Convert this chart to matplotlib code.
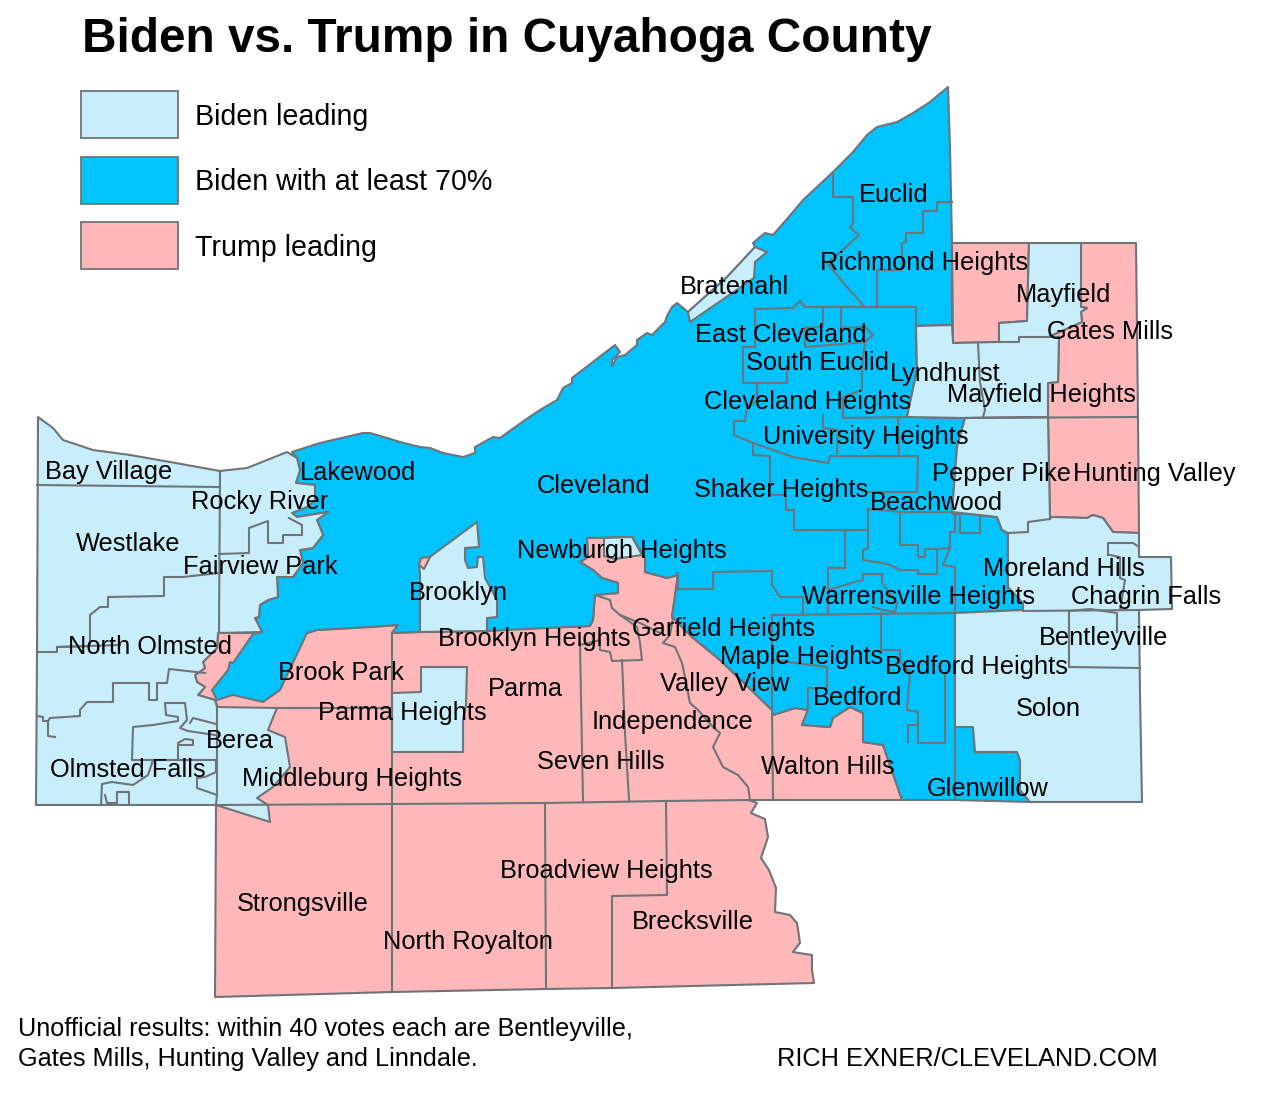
import matplotlib
matplotlib.use("Agg")
import matplotlib.pyplot as plt
from matplotlib.patches import Polygon, Rectangle

plt.rcParams['font.family'] = ['Liberation Sans', 'DejaVu Sans']

LIGHT = '#c8eefb'
BLUE = '#00c3ff'
PINK = '#ffb8ba'
EDGE = '#6e7478'

# map outlines
pink_south = [(218,633),(307,633),(317,630),(370,627),(398,625),(392,633),(420,632),(590,626),(593,620),(595,595),
    (618,593),(618,583),(602,578),(593,570),(580,562),(588,557),(587,538),(632,537),(645,557),(645,572),(667,578),
    (678,575),(672,617),(692,637),(720,660),(772,710),(773,715),(795,708),(808,710),(802,725),(830,727),(833,718),
    (850,707),(863,713),(863,742),(883,745),(902,800),(749,800),(757,803),(751,813),(765,819),(768,837),(761,858),
    (769,870),(776,888),(775,912),(790,915),(797,923),(800,943),(793,952),(812,955),(812,970),(814,983),(612,988),
    (546,989),(392,992),(215,997),(216,805),(217,705),(215,700),(198,695),(205,687),(197,682),(195,675),(205,668),
    (203,662),(217,648)]
blue_main = [(217,700),(212,690),(220,680),(228,670),(230,662),(233,663),(253,634),(262,632),(255,618),(259,617),
    (260,605),(268,600),(278,597),(277,577),(293,577),(303,563),(300,550),(313,548),(323,535),(317,520),(328,512),
    (297,517),(292,513),(307,507),(315,500),(315,485),(296,483),(300,470),(297,458),(292,452),(320,443),(363,433),
    (370,433),(387,438),(400,442),(420,447),(430,448),(443,453),(463,457),(475,453),(475,447),(493,437),(500,438),
    (525,420),(540,410),(557,400),(563,388),(572,383),(572,378),(615,345),(620,352),(612,360),(612,366),(617,357),
    (625,355),(637,345),(637,340),(647,333),(652,335),(665,322),(667,316),(672,307),(677,303),(688,312),(727,277),
    (755,247),(753,243),(760,237),(765,233),(773,235),(793,212),(803,200),(817,187),(833,172),(853,152),(867,135),
    (877,127),(897,122),(913,113),(930,102),(948,87),(950,147),(952,243),(952,325),(916,326),(917,370),
    (907,417),(965,418),(957,447),(952,512),(997,517),(1002,530),(1008,533),(1008,587),(1023,603),(1023,610),
    (955,613),(955,727),(973,727),(975,752),(1017,752),(1020,760),(1020,790),(1030,802),(955,800),(902,800),
    (883,745),(863,742),(863,713),(850,707),(833,718),(830,727),(802,725),(808,710),(795,708),(773,715),(772,710),
    (720,660),(692,637),(672,617),(678,575),(667,578),(645,572),(645,557),(632,537),(587,538),(588,557),(580,562),
    (593,570),(602,578),(618,583),(618,593),(595,595),(593,620),(590,626),(487,631),(420,632),(392,633),(398,625),
    (370,627),(317,630),(307,633),(280,690),(273,695),(263,702),(233,695)]
light_west = [(38,417),(53,428),(63,440),(93,450),(130,455),(170,462),(220,471),(247,468),(267,460),(287,452),
    (297,458),(300,470),(296,483),(315,485),(315,500),(307,507),(292,513),(297,517),(328,512),(317,520),(323,535),
    (313,548),(300,550),(303,563),(293,577),(277,577),(278,597),(268,600),(260,605),(259,617),(255,618),(262,632),
    (218,633),(217,648),(203,662),(205,668),(195,675),(197,682),(205,687),(198,695),(215,700),(217,707),(277,708),
    (268,730),(285,737),(290,767),(273,787),(257,798),(268,805),(270,822),(216,805),(36,805),(37,652)]
light_brooklyn = [(420,632),(420,573),(419,565),(477,522),(479,547),(465,548),(465,560),(468,568),(477,567),(478,557),
    (483,557),(485,578),(497,600),(497,617),(487,618),(487,631)]
pink_sliver = [(419,565),(421,558),(430,557),(424,569)]
light_parma_heights = [(392,693),(421,692),(421,667),(467,667),(466,705),(463,720),(463,752),(392,752)]
light_newburgh = [(604,538),(632,537),(642,555),(615,559),(604,556)]
light_bratenahl = [(688,312),(727,277),(755,247),(767,252),(755,262),(754,278),(690,322)]
pink_highland = [(952,243),(1029,243),(1027,321),(999,323),(999,342),(953,343)]
pink_east = [(1081,243),(1136,243),(1138,417),(1139,533),(1113,532),(1103,518),(1093,515),(1087,518),(1053,517),
    (1050,518),(1048,417),(1048,383),(1058,382),(1059,337),(1048,337),(1082,322),(1081,312),(1087,308),(1081,307)]
light_ne = [(1029,243),(1081,243),(1081,307),(1087,308),(1081,312),(1082,322),(1048,337),(1059,337),(1058,382),
    (1048,383),(1048,417),(965,418),(907,417),(917,370),(916,326),(952,325),(953,343),(999,342),(999,323),(1027,321)]
light_se = [(965,418),(1048,417),(1050,518),(1053,517),(1087,518),(1093,515),(1103,518),(1113,532),(1139,533),
    (1139,557),(1171,557),(1172,609),(1139,610),(1140,693),(1142,802),(1030,802),(1020,790),(1020,760),(1017,752),
    (975,752),(973,727),(955,727),(955,613),(1023,610),(1023,603),(1008,587),(1008,533),(1002,530),(997,517),
    (952,512),(957,447)]

areas = [(pink_south, PINK), (blue_main, BLUE), (light_west, LIGHT), (light_brooklyn, LIGHT), (pink_sliver, PINK),
    (light_parma_heights, LIGHT), (light_newburgh, LIGHT), (light_bratenahl, LIGHT), (pink_highland, PINK),
    (pink_east, PINK), (light_ne, LIGHT), (light_se, LIGHT)]

# municipal borders inside the coloured areas
borders = [
    [(833,173),(833,197),(853,197),(853,223),(850,227),(859,235),(843,250),(827,263),(847,287),(865,307)],
    [(952,202),(937,202),(937,211),(923,211),(923,233),(906,233),(906,242),(902,243),(902,270),(877,270),(877,307)],
    [(755,309),(793,308),(800,301),(805,307),(916,307),(916,326)],
    [(755,309),(755,347),(743,347),(743,383),(787,383),(787,369)],
    [(757,383),(757,400),(747,408),(745,421),(734,421),(734,435),(753,443),(793,457),(828,463),(830,456),(918,456)],
    [(823,308),(823,327),(805,328),(805,347),(865,342)],
    [(841,308),(841,328),(865,327),(873,335),(865,342),(862,367),(862,390),(843,397),(843,418),(907,417)],
    [(823,415),(823,428),(838,430),(837,453)],
    [(898,418),(899,455)],
    [(753,443),(753,455),(770,456),(770,495),(786,495),(786,510),(794,510),(794,530),(868,530)],
    [(918,456),(917,492),(867,492)],
    [(868,509),(900,512),(900,545),(918,545),(918,557),(925,557),(925,549),(937,549),(937,574),(918,574),(918,570),
     (900,570),(890,565),(882,563),(863,560),(863,550),(868,548),(868,509)],
    [(845,530),(845,568),(828,568),(828,613)],
    [(900,512),(950,512),(955,515),(955,532),(950,532),(950,548),(943,565),(955,567),(955,613)],
    [(937,549),(950,548)],
    [(955,515),(960,513),(960,533),(980,533),(980,515)],
    [(828,590),(855,582),(863,580),(863,574),(882,574),(882,583),(897,603),(895,613)],
    [(873,607),(883,610),(895,612)],
    [(677,573),(678,589),(713,589),(713,572),(772,571),(772,585),(780,597),(803,597),(803,613)],
    [(772,615),(955,613)],
    [(772,615),(772,710)],
    [(881,613),(881,650),(900,650),(900,662),(910,672),(907,710),(918,712),(918,743),(945,743),(945,673)],
    [(918,725),(908,725),(908,742)],
    [(772,660),(827,667),(827,688),(808,688),(808,710)],
    [(955,727),(955,800)],
    [(37,485),(220,487)],
    [(220,471),(219,633)],
    [(219,554),(249,553),(249,528),(268,521),(268,543),(283,543),(283,535),(302,535),(302,525),(289,518)],
    [(219,573),(183,577),(164,577),(164,596),(108,597),(108,607),(100,607),(90,615),(90,646),(57,647),(57,652),(37,652)],
    [(57,647),(120,645)],
    [(37,716),(43,717),(43,721),(48,721),(50,718),(80,716),(80,710),(87,702),(113,702),(113,683),(149,683),(149,700),
     (157,700),(157,683),(167,683),(169,669),(205,673)],
    [(48,721),(48,736),(55,737)],
    [(165,703),(185,703),(187,720),(180,728),(188,731),(215,735)],
    [(165,703),(166,715),(178,717),(178,721),(153,725),(133,727),(132,760),(216,760),(216,772),(205,777),(197,778),
     (197,788),(217,795),(216,805)],
    [(190,723),(193,718),(216,724)],
    [(178,760),(178,745),(193,745),(193,740),(185,739),(178,743)],
    [(153,760),(148,775),(133,785),(112,782),(102,784),(101,805)],
    [(105,795),(107,803),(117,803),(117,792),(129,792),(129,805)],
    [(217,707),(217,795)],
    [(277,708),(392,708)],
    [(392,633),(392,805)],
    [(580,643),(583,802)],
    [(622,660),(625,733),(629,800)],
    [(595,595),(610,600),(612,608),(620,615),(637,627),(640,643),(642,660),(612,661),(610,652),(600,650),(600,640),(580,645)],
    [(620,615),(640,623),(660,633)],
    [(673,617),(670,635),(663,643),(675,647),(682,663),(685,677),(690,703),(698,710),(713,727),(720,733),(713,747),
     (723,767),(738,775),(748,787),(750,800)],
    [(772,710),(773,800)],
    [(216,805),(392,804),(545,803),(666,801),(749,800)],
    [(392,805),(392,992)],
    [(545,803),(546,989)],
    [(666,801),(667,895),(612,896),(612,988)],
    [(978,343),(980,382),(985,410),(983,417)],
    [(999,342),(1019,342),(1019,337),(1048,337)],
    [(965,418),(1138,417)],
    [(1008,533),(1028,532),(1028,522),(1050,519)],
    [(1023,611),(1139,610)],
    [(1069,611),(1069,667),(1140,668)],
    [(1069,611),(1090,609),(1117,613),(1117,632)],
    [(1108,555),(1108,543),(1133,543),(1139,547)],
    [(1110,555),(1120,557),(1120,578),(1125,580),(1120,610)],
]

label_names = ['Euclid','Richmond Heights','Bratenahl','Mayfield','East Cleveland','Gates Mills','South Euclid',
    'Lyndhurst','Mayfield Heights','Cleveland Heights','University Heights','Pepper Pike','Hunting Valley','Lakewood',
    'Bay Village','Cleveland','Shaker Heights','Beachwood','Rocky River','Westlake','Newburgh Heights','Fairview Park',
    'Moreland Hills','Brooklyn','Warrensville Heights','Chagrin Falls','Garfield Heights','Brooklyn Heights',
    'Bentleyville','North Olmsted','Maple Heights','Bedford Heights','Brook Park','Valley View','Parma','Bedford',
    'Solon','Parma Heights','Independence','Berea','Seven Hills','Walton Hills','Olmsted Falls','Middleburg Heights',
    'Glenwillow','Broadview Heights','Strongsville','Brecksville','North Royalton']
label_x = [894,924,734,1064,781,1110,817,945,1041,808,866,1002,1154,358,109,594,781,936,260,128,622,260,1064,458,918,
    1146,723,534,1104,150,802,976,341,725,525,858,1048,402,673,240,601,828,128,352,988,606,303,693,468]
label_y = [195,263,287,295,335,332,363,374,395,402,437,474,474,473,472,486,490,503,502,544,551,567,569,593,597,597,
    629,639,638,647,657,667,673,684,689,698,709,713,722,741,762,767,770,779,789,871,904,922,942]

legend_names = ['Biden leading', 'Biden with at least 70%', 'Trump leading']
legend_colors = [LIGHT, BLUE, PINK]

fig = plt.figure(figsize=(12.8, 10.98), dpi=100)
ax = fig.add_axes([0, 0, 1, 1])
ax.set_xlim(0, 1280)
ax.set_ylim(1098, 0)
ax.axis('off')

for points, color in areas:
    ax.add_patch(Polygon(points, closed=True, facecolor=color, edgecolor=EDGE, linewidth=1.5, joinstyle='round'))

for line in borders:
    ax.plot([p[0] for p in line], [p[1] for p in line], color=EDGE, linewidth=1.5, solid_joinstyle='round')

for name, x, y in zip(label_names, label_x, label_y):
    ax.text(x, y, name, fontsize=18.3, color='black', ha='center', va='center')

ax.text(82, 40, 'Biden vs. Trump in Cuyahoga County', fontsize=34.4, fontweight='bold', va='center')

for i, name in enumerate(legend_names):
    top = 91 + i * 65.5
    ax.add_patch(Rectangle((81, top), 97, 47, facecolor=legend_colors[i], edgecolor=EDGE, linewidth=1.3))
    ax.text(195, top + 26, name, fontsize=20.6, va='center')

ax.text(18, 1029, 'Unofficial results: within 40 votes each are Bentleyville,', fontsize=18.2, va='center')
ax.text(18, 1059, 'Gates Mills, Hunting Valley and Linndale.', fontsize=18.2, va='center')
ax.text(777, 1059, 'RICH EXNER/CLEVELAND.COM', fontsize=18.3, va='center')

fig.savefig('out.png', dpi=100)
